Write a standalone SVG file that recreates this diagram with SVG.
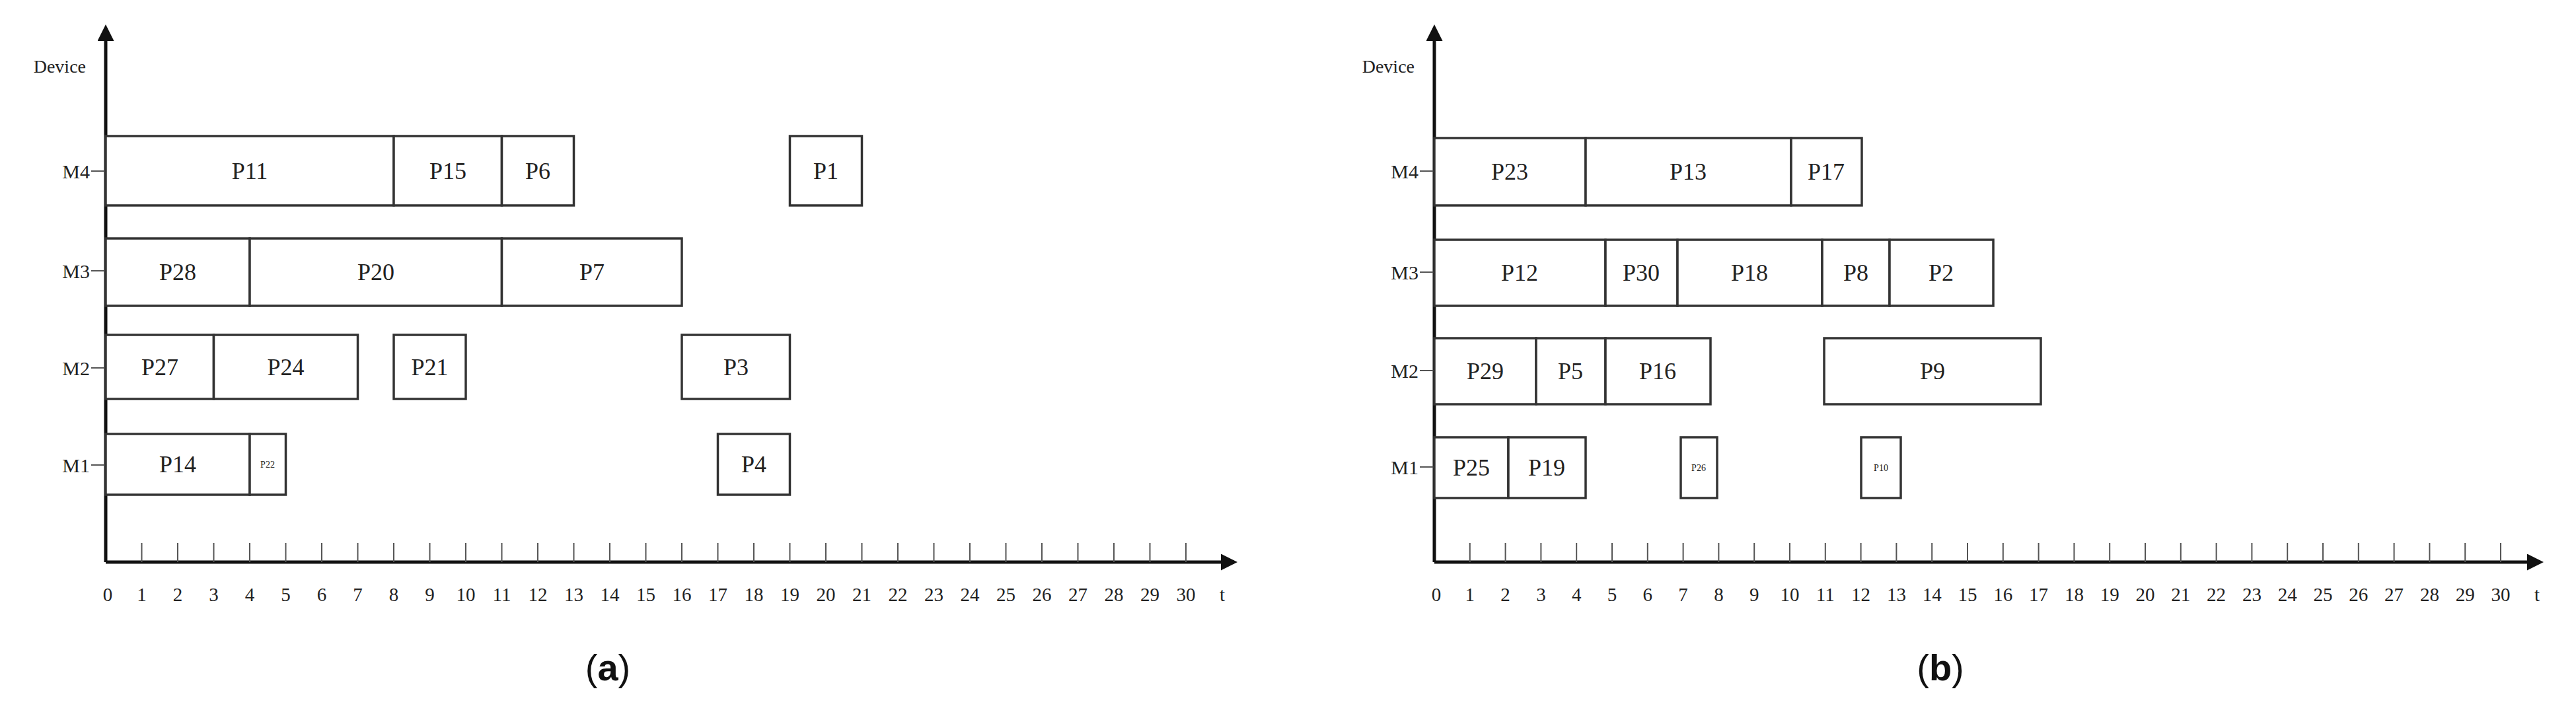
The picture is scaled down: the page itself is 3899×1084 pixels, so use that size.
<svg xmlns="http://www.w3.org/2000/svg" width="3899" height="1084" viewBox="0 0 3899 1084">
<style>
.b{fill:#fff;stroke:#333;stroke-width:3.5}
.t{font-family:"Liberation Serif",serif;font-size:36px;fill:#222;text-anchor:middle;dominant-baseline:central}
.s{font-family:"Liberation Serif",serif;font-size:14px;fill:#222;text-anchor:middle;dominant-baseline:central}
.n{font-family:"Liberation Serif",serif;font-size:29px;fill:#222;text-anchor:middle}
.m{font-family:"Liberation Serif",serif;font-size:30px;fill:#222;text-anchor:end;dominant-baseline:central}
.ax{stroke:#111;stroke-width:5;fill:none}
.tk{stroke:#555;stroke-width:2}
.cap{font-family:"Liberation Sans",sans-serif;font-size:56px;fill:#111;text-anchor:middle}
</style>
<defs><marker id="ar" viewBox="0 0 10 10" refX="8" refY="5" markerWidth="5" markerHeight="5" orient="auto"><path d="M0,0L10,5L0,10z" fill="#111"/></marker></defs>
<g id="axes-a">
<line class="ax" x1="160" y1="851" x2="160" y2="42" marker-end="url(#ar)"/>
<line class="ax" x1="160" y1="851" x2="1868" y2="851" marker-end="url(#ar)"/>
<text class="m" x="130" y="100" style="font-size:28px">Device</text>
<text class="m" x="136" y="259">M4</text><line class="tk" x1="138" y1="259" x2="160" y2="259"/>
<text class="m" x="136" y="410">M3</text><line class="tk" x1="138" y1="410" x2="160" y2="410"/>
<text class="m" x="136" y="557">M2</text><line class="tk" x1="138" y1="557" x2="160" y2="557"/>
<text class="m" x="136" y="704">M1</text><line class="tk" x1="138" y1="704" x2="160" y2="704"/>
<path class="tk" d="M214.5 822V851M269 822V851M323.5 822V851M378 822V851M432.5 822V851M487 822V851M541.5 822V851M596 822V851M650.5 822V851M705 822V851M759.5 822V851M814 822V851M868.5 822V851M923 822V851M977.5 822V851M1032 822V851M1086.5 822V851M1141 822V851M1195.5 822V851M1250 822V851M1304.5 822V851M1359 822V851M1413.5 822V851M1468 822V851M1522.5 822V851M1577 822V851M1631.5 822V851M1686 822V851M1740.5 822V851M1795 822V851"/>
<g class="n">
<text x="163" y="910">0</text><text x="214.5" y="910">1</text><text x="269" y="910">2</text><text x="323.5" y="910">3</text><text x="378" y="910">4</text><text x="432.5" y="910">5</text><text x="487" y="910">6</text><text x="541.5" y="910">7</text><text x="596" y="910">8</text><text x="650.5" y="910">9</text><text x="705" y="910">10</text><text x="759.5" y="910">11</text><text x="814" y="910">12</text><text x="868.5" y="910">13</text><text x="923" y="910">14</text><text x="977.5" y="910">15</text><text x="1032" y="910">16</text><text x="1086.5" y="910">17</text><text x="1141" y="910">18</text><text x="1195.5" y="910">19</text><text x="1250" y="910">20</text><text x="1304.5" y="910">21</text><text x="1359" y="910">22</text><text x="1413.5" y="910">23</text><text x="1468" y="910">24</text><text x="1522.5" y="910">25</text><text x="1577" y="910">26</text><text x="1631.5" y="910">27</text><text x="1686" y="910">28</text><text x="1740.5" y="910">29</text><text x="1795" y="910">30</text><text x="1850" y="910">t</text>
</g>
<text class="cap" x="920" y="1030">(<tspan font-weight="bold">a</tspan>)</text>
</g>
<g id="nodes-a">
<g id="a-P11"><rect class="b" x="160" y="206" width="436" height="105"/><text class="t" x="378" y="259">P11</text></g>
<g id="a-P15"><rect class="b" x="596" y="206" width="163.5" height="105"/><text class="t" x="678" y="259">P15</text></g>
<g id="a-P6"><rect class="b" x="759.5" y="206" width="109" height="105"/><text class="t" x="814" y="259">P6</text></g>
<g id="a-P1"><rect class="b" x="1195.5" y="206" width="109" height="105"/><text class="t" x="1250" y="259">P1</text></g>
<g id="a-P28"><rect class="b" x="160" y="361" width="218" height="102"/><text class="t" x="269" y="412">P28</text></g>
<g id="a-P20"><rect class="b" x="378" y="361" width="381.5" height="102"/><text class="t" x="569" y="412">P20</text></g>
<g id="a-P7"><rect class="b" x="759.5" y="361" width="272.5" height="102"/><text class="t" x="896" y="412">P7</text></g>
<g id="a-P27"><rect class="b" x="160" y="507" width="163.5" height="97"/><text class="t" x="242" y="556">P27</text></g>
<g id="a-P24"><rect class="b" x="323.5" y="507" width="218" height="97"/><text class="t" x="432.5" y="556">P24</text></g>
<g id="a-P21"><rect class="b" x="596" y="507" width="109" height="97"/><text class="t" x="650.5" y="556">P21</text></g>
<g id="a-P3"><rect class="b" x="1032" y="507" width="163.5" height="97"/><text class="t" x="1114" y="556">P3</text></g>
<g id="a-P14"><rect class="b" x="160" y="657" width="218" height="92"/><text class="t" x="269" y="703">P14</text></g>
<g id="a-P22"><rect class="b" x="378" y="657" width="54.5" height="92"/><text class="s" x="405" y="703">P22</text></g>
<g id="a-P4"><rect class="b" x="1086.5" y="657" width="109" height="92"/><text class="t" x="1141" y="703">P4</text></g>
</g>
<g id="axes-b">
<line class="ax" x1="2171" y1="851" x2="2171" y2="42" marker-end="url(#ar)"/>
<line class="ax" x1="2171" y1="851" x2="3845" y2="851" marker-end="url(#ar)"/>
<text class="m" x="2141" y="100" style="font-size:28px">Device</text>
<text class="m" x="2147" y="259">M4</text><line class="tk" x1="2149" y1="259" x2="2171" y2="259"/>
<text class="m" x="2147" y="412">M3</text><line class="tk" x1="2149" y1="412" x2="2171" y2="412"/>
<text class="m" x="2147" y="561">M2</text><line class="tk" x1="2149" y1="561" x2="2171" y2="561"/>
<text class="m" x="2147" y="707">M1</text><line class="tk" x1="2149" y1="707" x2="2171" y2="707"/>
<path class="tk" d="M2224.8 822V851M2278.6 822V851M2332.4 822V851M2386.2 822V851M2440 822V851M2493.8 822V851M2547.6 822V851M2601.4 822V851M2655.2 822V851M2709 822V851M2762.8 822V851M2816.6 822V851M2870.4 822V851M2924.2 822V851M2978 822V851M3031.8 822V851M3085.6 822V851M3139.4 822V851M3193.2 822V851M3247 822V851M3300.8 822V851M3354.6 822V851M3408.4 822V851M3462.2 822V851M3516 822V851M3569.8 822V851M3623.6 822V851M3677.4 822V851M3731.2 822V851M3785 822V851"/>
<g class="n">
<text x="2174" y="910">0</text><text x="2224.8" y="910">1</text><text x="2278.6" y="910">2</text><text x="2332.4" y="910">3</text><text x="2386.2" y="910">4</text><text x="2440" y="910">5</text><text x="2493.8" y="910">6</text><text x="2547.6" y="910">7</text><text x="2601.4" y="910">8</text><text x="2655.2" y="910">9</text><text x="2709" y="910">10</text><text x="2762.8" y="910">11</text><text x="2816.6" y="910">12</text><text x="2870.4" y="910">13</text><text x="2924.2" y="910">14</text><text x="2978" y="910">15</text><text x="3031.8" y="910">16</text><text x="3085.6" y="910">17</text><text x="3139.4" y="910">18</text><text x="3193.2" y="910">19</text><text x="3247" y="910">20</text><text x="3300.8" y="910">21</text><text x="3354.6" y="910">22</text><text x="3408.4" y="910">23</text><text x="3462.2" y="910">24</text><text x="3516" y="910">25</text><text x="3569.8" y="910">26</text><text x="3623.6" y="910">27</text><text x="3677.4" y="910">28</text><text x="3731.2" y="910">29</text><text x="3785" y="910">30</text><text x="3840" y="910">t</text>
</g>
<text class="cap" x="2937" y="1030">(<tspan font-weight="bold">b</tspan>)</text>
</g>
<g id="nodes-b">
<g id="b-P23"><rect class="b" x="2171" y="209" width="229" height="102"/><text class="t" x="2285" y="260">P23</text></g>
<g id="b-P13"><rect class="b" x="2400" y="209" width="311" height="102"/><text class="t" x="2555" y="260">P13</text></g>
<g id="b-P17"><rect class="b" x="2711" y="209" width="107" height="102"/><text class="t" x="2764" y="260">P17</text></g>
<g id="b-P12"><rect class="b" x="2171" y="363" width="259" height="100"/><text class="t" x="2300" y="413">P12</text></g>
<g id="b-P30"><rect class="b" x="2430" y="363" width="109" height="100"/><text class="t" x="2484" y="413">P30</text></g>
<g id="b-P18"><rect class="b" x="2539" y="363" width="219" height="100"/><text class="t" x="2648" y="413">P18</text></g>
<g id="b-P8"><rect class="b" x="2758" y="363" width="102" height="100"/><text class="t" x="2809" y="413">P8</text></g>
<g id="b-P2"><rect class="b" x="2860" y="363" width="157" height="100"/><text class="t" x="2938" y="413">P2</text></g>
<g id="b-P29"><rect class="b" x="2171" y="512" width="154" height="100"/><text class="t" x="2248" y="562">P29</text></g>
<g id="b-P5"><rect class="b" x="2325" y="512" width="105" height="100"/><text class="t" x="2377" y="562">P5</text></g>
<g id="b-P16"><rect class="b" x="2430" y="512" width="159" height="100"/><text class="t" x="2509" y="562">P16</text></g>
<g id="b-P9"><rect class="b" x="2761" y="512" width="328" height="100"/><text class="t" x="2925" y="562">P9</text></g>
<g id="b-P25"><rect class="b" x="2171" y="662" width="112" height="92"/><text class="t" x="2227" y="708">P25</text></g>
<g id="b-P19"><rect class="b" x="2283" y="662" width="117" height="92"/><text class="t" x="2341" y="708">P19</text></g>
<g id="b-P26"><rect class="b" x="2544" y="662" width="55" height="92"/><text class="s" x="2571" y="708">P26</text></g>
<g id="b-P10"><rect class="b" x="2817" y="662" width="60" height="92"/><text class="s" x="2847" y="708">P10</text></g>
</g>
</svg>
